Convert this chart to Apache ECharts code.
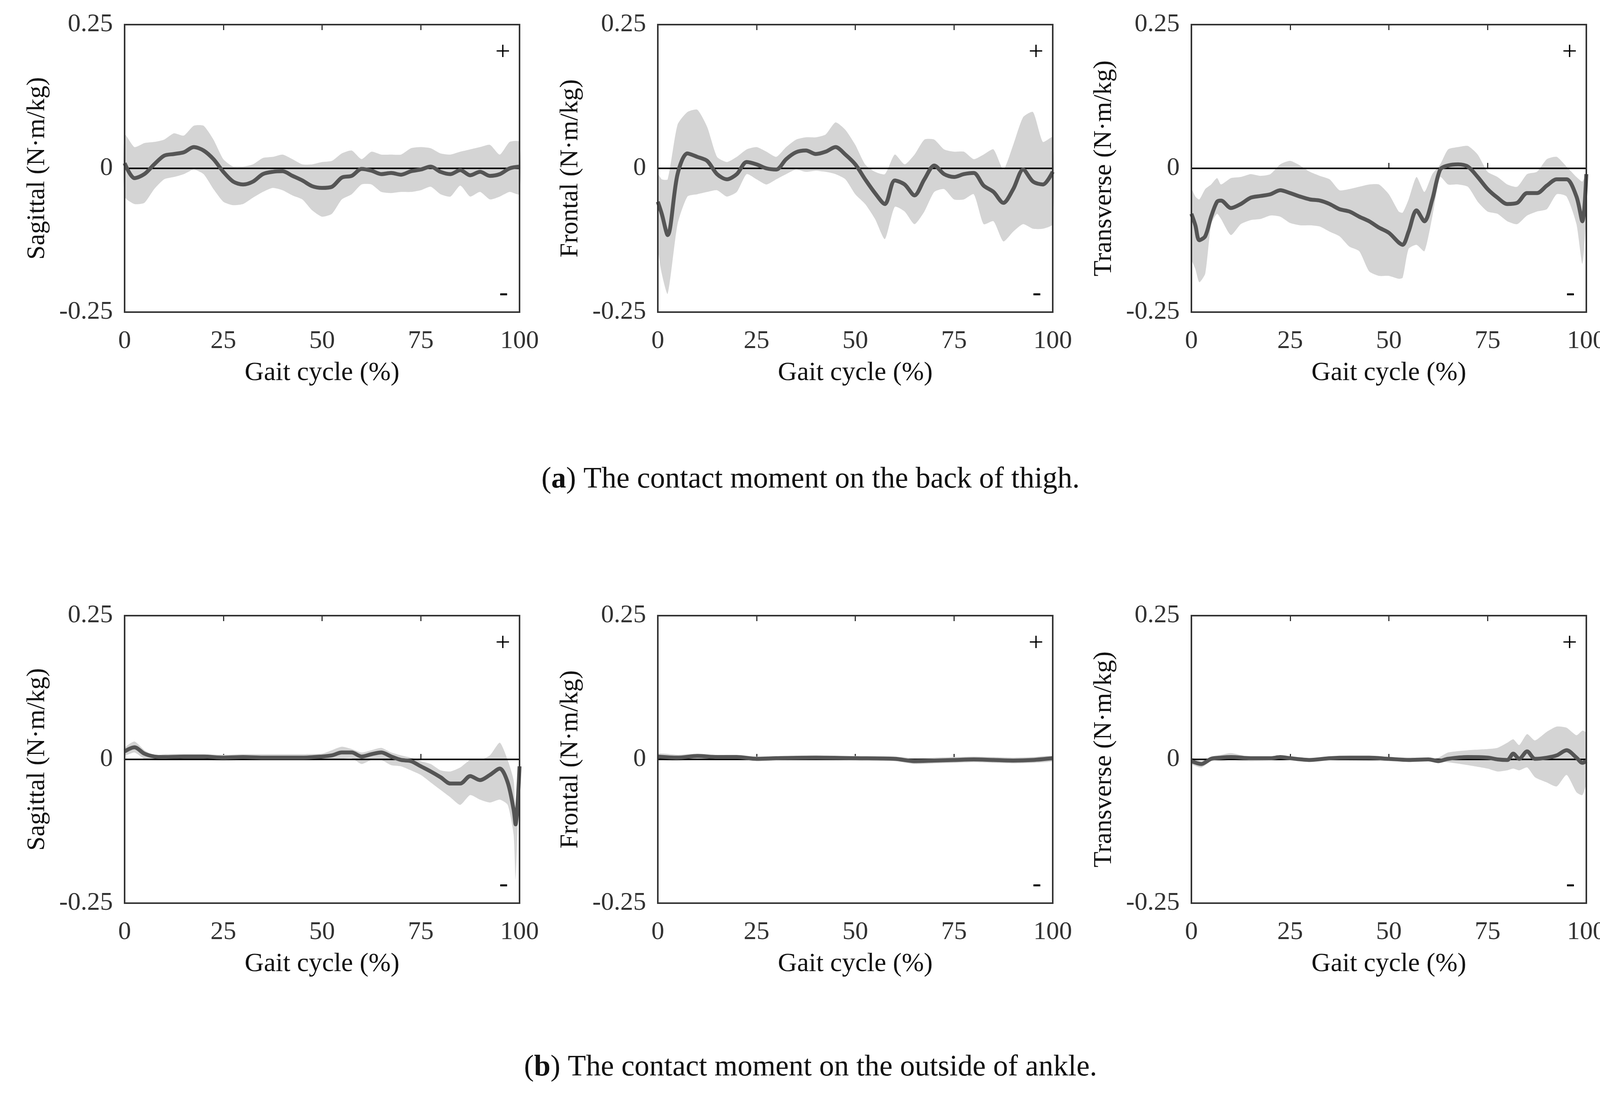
<!DOCTYPE html>
<html><head><meta charset="utf-8">
<script src="https://cdn.jsdelivr.net/npm/echarts@6/dist/echarts.min.js"></script>
<style>html,body{margin:0;padding:0;background:#fff}#c{width:4159px;height:2798px}</style>
</head><body><div id="c"></div>
<script>
// ---- data ----
const yTicks = [-0.25, 0, 0.25];
const xTicks = [0, 25, 50, 75, 100];
const yNames = ['Sagittal (N·m/kg)', 'Frontal (N·m/kg)', 'Transverse (N·m/kg)'];
const captionA = 'The contact moment on the back of thigh.';
const captionB = 'The contact moment on the outside of ankle.';

const x1 = [0,2.5,5,7.5,10,12.5,15,17.5,20,22.5,25,27.5,30,32.5,35,37.5,40,42.5,45,47.5,50,52.5,55,57.5,60,62.5,65,67.5,70,72.5,75,77.5,80,82.5,85,87.5,90,92.5,95,97.5,100];
const mean1 = [0.009,-0.017,-0.010,0.007,0.022,0.025,0.028,0.037,0.031,0.016,-0.006,-0.023,-0.028,-0.023,-0.010,-0.006,-0.005,-0.013,-0.021,-0.031,-0.034,-0.032,-0.016,-0.013,-0.001,-0.004,-0.010,-0.008,-0.011,-0.005,-0.002,0.003,-0.006,-0.010,-0.003,-0.012,-0.006,-0.013,-0.010,0.000,0.003];
const upper1 = [0.059,0.037,0.044,0.046,0.050,0.061,0.057,0.074,0.074,0.050,0.016,0.003,0.003,0.007,0.018,0.020,0.024,0.016,0.007,0.007,0.011,0.013,0.026,0.031,0.016,0.029,0.024,0.024,0.024,0.035,0.037,0.035,0.026,0.024,0.029,0.033,0.037,0.041,0.024,0.046,0.046];
const lower1 = [-0.049,-0.062,-0.060,-0.036,-0.019,-0.015,-0.010,-0.002,-0.010,-0.036,-0.058,-0.064,-0.062,-0.051,-0.041,-0.034,-0.038,-0.047,-0.054,-0.073,-0.084,-0.079,-0.054,-0.045,-0.028,-0.028,-0.041,-0.043,-0.041,-0.041,-0.038,-0.032,-0.045,-0.049,-0.030,-0.049,-0.041,-0.054,-0.049,-0.041,-0.045];

const x2 = [0,1,2.5,5,7.5,10,12.5,15,17.5,20,22.5,25,27.5,30,32.5,35,37.5,40,42.5,45,47.5,50,52.5,55,57.5,60,62.5,65,67.5,70,72.5,75,77.5,80,82.5,85,87.5,90,92.5,95,97.5,100];
const mean2 = [-0.058,-0.079,-0.116,-0.010,0.026,0.020,0.013,-0.010,-0.019,-0.010,0.011,0.007,0.000,-0.002,0.016,0.028,0.031,0.025,0.029,0.037,0.024,0.007,-0.019,-0.043,-0.062,-0.021,-0.028,-0.047,-0.019,0.005,-0.010,-0.015,-0.010,-0.008,-0.030,-0.041,-0.060,-0.036,-0.002,-0.023,-0.028,-0.006];
const upper2 = [-0.010,-0.019,-0.019,0.076,0.098,0.102,0.072,0.020,0.011,0.020,0.033,0.037,0.029,0.020,0.037,0.050,0.054,0.054,0.059,0.080,0.067,0.041,0.007,-0.006,-0.010,0.024,0.007,0.024,0.050,0.050,0.033,0.029,0.029,0.016,0.024,0.033,-0.002,0.041,0.089,0.098,0.046,0.054];
const lower2 = [-0.136,-0.183,-0.218,-0.097,-0.049,-0.045,-0.041,-0.038,-0.049,-0.041,-0.010,-0.019,-0.028,-0.019,-0.010,-0.002,-0.006,-0.004,-0.006,-0.010,-0.019,-0.045,-0.062,-0.088,-0.123,-0.067,-0.075,-0.097,-0.075,-0.041,-0.036,-0.054,-0.054,-0.045,-0.097,-0.092,-0.127,-0.110,-0.097,-0.105,-0.105,-0.097];

const x3 = [0,1,2,3.5,5,6.5,7.5,10,12.5,15,17.5,20,22.5,25,27.5,30,32.5,35,37.5,40,42.5,45,47.5,50,52.5,53.5,55,57,59,61,63,65,67.5,70,72.5,75,77.5,80,82.5,85,87.5,90,92.5,95,97.5,99,100];
const mean3 = [-0.079,-0.099,-0.125,-0.118,-0.084,-0.058,-0.056,-0.069,-0.062,-0.051,-0.048,-0.045,-0.038,-0.043,-0.049,-0.054,-0.056,-0.062,-0.071,-0.075,-0.084,-0.092,-0.103,-0.112,-0.129,-0.133,-0.110,-0.073,-0.092,-0.054,-0.002,0.005,0.007,0.003,-0.015,-0.036,-0.051,-0.062,-0.060,-0.043,-0.043,-0.030,-0.019,-0.019,-0.049,-0.092,-0.010];
const upper3 = [-0.036,-0.049,-0.054,-0.036,-0.028,-0.017,-0.028,-0.017,-0.015,-0.010,-0.013,-0.010,0.007,0.013,0.005,-0.006,-0.013,-0.019,-0.038,-0.036,-0.032,-0.028,-0.028,-0.045,-0.075,-0.077,-0.054,-0.015,-0.041,-0.010,0.007,0.033,0.037,0.039,0.024,-0.006,-0.015,-0.028,-0.032,-0.010,-0.006,0.016,0.020,0.003,-0.015,-0.023,-0.010];
const lower3 = [-0.157,-0.175,-0.198,-0.183,-0.097,-0.079,-0.088,-0.116,-0.097,-0.090,-0.088,-0.082,-0.084,-0.095,-0.099,-0.099,-0.101,-0.110,-0.118,-0.136,-0.144,-0.179,-0.187,-0.187,-0.192,-0.190,-0.140,-0.133,-0.144,-0.084,-0.015,-0.028,-0.028,-0.032,-0.058,-0.075,-0.079,-0.092,-0.097,-0.082,-0.075,-0.071,-0.045,-0.049,-0.097,-0.166,-0.079];

const x4 = [0,2.5,5,7.5,10,15,20,25,30,35,40,45,50,52.5,55,57.5,60,62.5,65,67.5,70,72.5,75,77.5,80,82.5,85,87.5,90,92.5,95,97,98.5,99,100];
const mean4 = [0.014,0.021,0.010,0.005,0.004,0.005,0.005,0.003,0.004,0.003,0.003,0.003,0.005,0.007,0.012,0.012,0.005,0.009,0.012,0.005,-0.001,-0.003,-0.012,-0.021,-0.031,-0.042,-0.042,-0.029,-0.036,-0.027,-0.016,-0.040,-0.087,-0.113,-0.012];
const upper4 = [0.020,0.031,0.016,0.007,0.009,0.009,0.009,0.008,0.009,0.009,0.009,0.009,0.010,0.016,0.022,0.018,0.012,0.016,0.020,0.012,0.007,0.003,-0.003,-0.008,-0.019,-0.021,-0.014,-0.001,-0.001,0.007,0.029,-0.001,-0.036,-0.087,-0.010];
const lower4 = [0.007,0.012,0.001,-0.001,-0.001,-0.001,-0.001,-0.002,-0.001,-0.001,-0.001,-0.001,-0.001,-0.001,0.001,0.002,-0.008,-0.001,-0.001,-0.010,-0.012,-0.019,-0.027,-0.040,-0.053,-0.066,-0.079,-0.062,-0.070,-0.075,-0.070,-0.079,-0.131,-0.208,-0.023];

const x5 = [0,5,10,15,20,25,30,40,50,60,65,70,75,80,85,90,95,100];
const mean5 = [0.005,0.003,0.006,0.004,0.004,0.001,0.002,0.003,0.002,0.001,-0.003,-0.002,-0.001,0.000,-0.001,-0.002,-0.001,0.002];
const upper5 = [0.010,0.008,0.010,0.008,0.008,0.005,0.006,0.007,0.006,0.005,0.002,0.003,0.004,0.005,0.004,0.003,0.004,0.006];
const lower5 = [0.000,-0.002,0.001,0.000,0.000,-0.003,-0.002,-0.001,-0.002,-0.003,-0.008,-0.007,-0.006,-0.005,-0.006,-0.007,-0.006,-0.003];

const x6 = [0,2.5,5,7.5,10,15,20,22.5,25,30,35,40,45,50,55,60,62.5,65,70,75,77.5,80,81.5,83,85,87,90,92.5,95,97.5,99,100];
const mean6 = [-0.003,-0.008,0.001,0.003,0.004,0.002,0.002,0.004,0.002,-0.001,0.002,0.003,0.003,0.001,-0.001,0.000,-0.003,0.001,0.004,0.003,0.000,-0.001,0.010,0.001,0.014,0.001,0.003,0.007,0.016,0.003,-0.006,-0.003];
const upper6 = [0.003,-0.003,0.005,0.008,0.011,0.004,0.003,0.005,0.005,0.002,0.004,0.005,0.004,0.004,0.003,0.003,0.003,0.012,0.016,0.018,0.020,0.029,0.035,0.025,0.044,0.033,0.048,0.057,0.055,0.042,0.050,0.046];
const lower6 = [-0.008,-0.014,-0.003,-0.003,-0.001,-0.003,-0.002,-0.002,-0.001,-0.003,-0.002,-0.002,-0.003,-0.003,-0.004,-0.003,-0.004,-0.005,-0.010,-0.016,-0.021,-0.019,-0.016,-0.019,-0.014,-0.031,-0.040,-0.047,-0.027,-0.057,-0.062,-0.040];

const panels = [
  {x:x1, m:mean1, u:upper1, l:lower1, name:yNames[0]},
  {x:x2, m:mean2, u:upper2, l:lower2, name:yNames[1]},
  {x:x3, m:mean3, u:upper3, l:lower3, name:yNames[2]},
  {x:x4, m:mean4, u:upper4, l:lower4, name:yNames[0]},
  {x:x5, m:mean5, u:upper5, l:lower5, name:yNames[1]},
  {x:x6, m:mean6, u:upper6, l:lower6, name:yNames[2]}
];

// ---- layout ----
const FONT = 'Liberation Serif';
const lefts = [319, 1684, 3050];
const tops = [63, 1576];
const W = 1011, H = 736;

const grid = [], xAxis = [], yAxis = [], series = [], graphic = [];
panels.forEach((p, i) => {
  const col = i % 3, row = Math.floor(i / 3);
  const L = lefts[col], T = tops[row];
  grid.push({left: L, top: T, width: W, height: H, show: true, borderColor: '#333', borderWidth: 4, backgroundColor: 'transparent', z: 10});
  const xi = xAxis.length;
  xAxis.push({type: 'value', gridIndex: i, min: 0, max: 100, interval: 25, position: 'bottom',
    axisLine: {show: false}, splitLine: {show: false},
    axisTick: {show: true, inside: true, length: 14, lineStyle: {color: '#333', width: 3}},
    axisLabel: {fontFamily: FONT, fontSize: 66, color: '#333', margin: 42,
      formatter: v => xTicks.includes(v) ? String(v) : ''},
    name: 'Gait cycle (%)', nameLocation: 'middle', nameGap: 122,
    nameTextStyle: {fontFamily: FONT, fontSize: 68, color: '#111'}});
  xAxis.push({type: 'value', gridIndex: i, min: 0, max: 100, interval: 25, position: 'top',
    axisLine: {show: false}, splitLine: {show: false}, axisLabel: {show: false},
    axisTick: {show: true, inside: true, length: 14, lineStyle: {color: '#333', width: 3}}});
  const yi = yAxis.length;
  yAxis.push({type: 'value', gridIndex: i, min: -0.25, max: 0.25, interval: 0.25,
    axisLine: {show: false}, splitLine: {show: false}, axisTick: {show: false},
    axisLabel: {fontFamily: FONT, fontSize: 66, color: '#333', margin: 30,
      formatter: v => { const t = yTicks.find(k => Math.abs(k - v) < 1e-9); return t === undefined ? '' : (t === 0 ? '0' : String(t)); }},
    name: p.name, nameLocation: 'middle', nameGap: 190, nameRotate: 90,
    nameTextStyle: {fontFamily: FONT, fontSize: 66, color: '#111'}});
  // shaded band: polygon through upper points then lower points, via the axis scales
  series.push({type: 'custom', xAxisIndex: xi, yAxisIndex: yi, silent: true, z: 1,
    data: p.x.map((x, k) => [x, p.u[k], p.l[k]]),
    encode: {x: 0, y: [1, 2]},
    renderItem: (params, api) => {
      if (params.dataIndex !== 0) return null;
      const pts = [];
      for (let k = 0; k < p.x.length; k++) pts.push(api.coord([p.x[k], p.u[k]]));
      for (let k = p.x.length - 1; k >= 0; k--) pts.push(api.coord([p.x[k], p.l[k]]));
      return {type: 'polygon', shape: {points: pts, smooth: 0.2}, style: {fill: '#d4d4d4', stroke: null}};
    }});
  series.push({type: 'line', xAxisIndex: xi, yAxisIndex: yi, data: [[0, 0], [100, 0]],
    showSymbol: false, symbol: 'none', lineStyle: {color: '#000', width: 4}, silent: true, z: 3});
  series.push({type: 'line', xAxisIndex: xi, yAxisIndex: yi, data: p.x.map((x, k) => [x, p.m[k]]),
    showSymbol: false, symbol: 'none', smooth: 0.3, lineStyle: {color: '#555', width: 10}, silent: true, z: 4});
  graphic.push({type: 'text', z: 100, left: L + W - 62, top: T + 38,
    style: {text: '+', font: '68px "Liberation Serif"', fill: '#000'}});
  graphic.push({type: 'text', z: 100, left: L + W - 52, top: T + H - 82,
    style: {text: '-', font: '68px "Liberation Serif"', fill: '#000'}});
});

const rich = {b: {fontWeight: 'bold', fontSize: 76, fontFamily: FONT, fill: '#111'}, n: {fontSize: 76, fontFamily: FONT, fill: '#111'}};
graphic.push({type: 'text', x: 2075, y: 1228, style: {rich, textAlign: 'center', textVerticalAlign: 'middle',
  text: '{n|(}{b|a}{n|) ' + captionA + '}'}});
graphic.push({type: 'text', x: 2075, y: 2733, style: {rich, textAlign: 'center', textVerticalAlign: 'middle',
  text: '{n|(}{b|b}{n|) ' + captionB + '}'}});

const chart = echarts.init(document.getElementById('c'));
chart.setOption({animation: false, backgroundColor: '#fff', grid, xAxis, yAxis, series, graphic});
</script></body></html>
